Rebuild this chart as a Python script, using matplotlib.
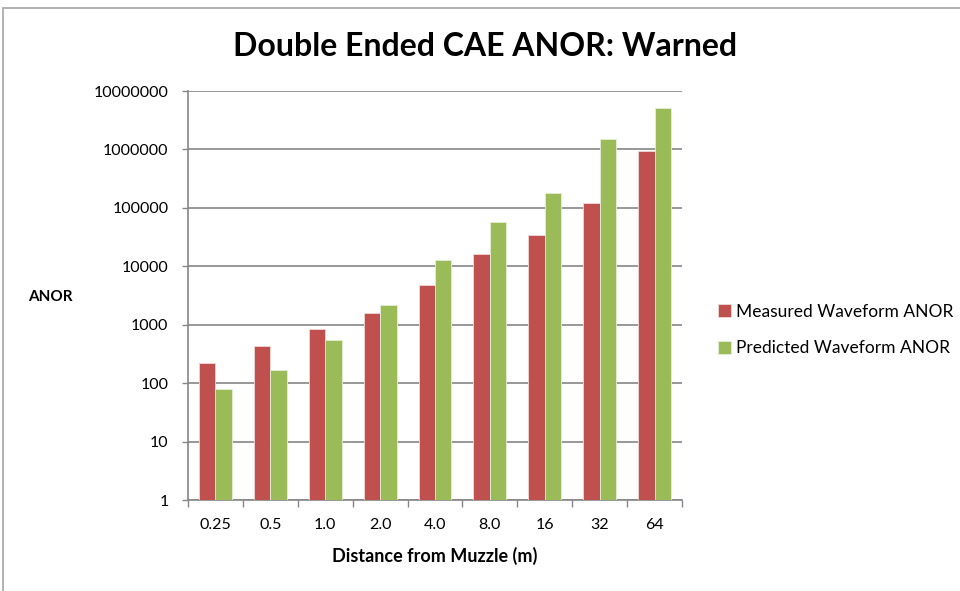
import matplotlib.pyplot as plt
import matplotlib.patches as mpatches
import numpy as np

distances = ["0.25", "0.5", "1.0", "2.0", "4.0", "8.0", "16", "32", "64"]
measured = [224, 427, 855, 1570, 4730, 16200, 33900, 122000, 940000]
predicted = [78, 168, 540, 2200, 12600, 56600, 182000, 1490000, 5060000]
y_ticks = [1, 10, 100, 1000, 10000, 100000, 1000000, 10000000]

plt.rcParams['font.family'] = ['Lato', 'DejaVu Sans']

fig = plt.figure(figsize=(9.6, 5.91), dpi=100)
ax = fig.add_axes([188 / 960, (591 - 500) / 591, (682 - 188) / 960, (500 - 91) / 591])

x = np.arange(len(distances))
w = 0.3
ax.bar(x - w / 2, measured, w, bottom=1, color="#C0504D", edgecolor="#f0d8d8",
       linewidth=0.6, label="Measured Waveform ANOR", zorder=3)
ax.bar(x + w / 2, predicted, w, bottom=1, color="#9BBB59", edgecolor="#e4eed6",
       linewidth=0.6, label="Predicted Waveform ANOR", zorder=3)

ax.set_yscale("log")
ax.set_ylim(1, 1e7)
ax.set_xlim(-0.5, len(distances) - 0.5)
ax.set_yticks(y_ticks)
ax.set_yticklabels([str(v) for v in y_ticks], fontsize=11.5)
ax.yaxis.set_minor_locator(plt.NullLocator())
ax.set_xticks(x)
ax.set_xticklabels(distances, fontsize=11.5)
ax.tick_params(axis="x", length=0, pad=13)
ax.set_xticks(np.arange(-0.5, len(distances)), minor=True)
ax.tick_params(axis="x", which="minor", length=5, color="#868686", width=1)
ax.tick_params(axis="y", length=4, color="#868686", width=1, pad=10)
ax.grid(axis="y", color="#868686", linewidth=1.2, zorder=0)

for s in ["top", "right"]:
    ax.spines[s].set_visible(False)
for s in ["left", "bottom"]:
    ax.spines[s].set_color("#868686")
    ax.spines[s].set_linewidth(1.2)

fig.text(435 / 960, 1 - 556 / 591, "Distance from Muzzle (m)", ha="center", va="center",
         fontsize=13, fontweight="bold")
fig.text(50 / 960, 1 - 297 / 591, "ANOR", ha="center", va="center",
         fontsize=11, fontweight="bold")
fig.text(485 / 960, 1 - 46 / 591, "Double Ended CAE ANOR: Warned", ha="center", va="center",
         fontsize=23, fontweight="bold")

ax.legend(loc="center left", bbox_to_anchor=(702 / 960, 1 - 330 / 591),
          bbox_transform=fig.transFigure, frameon=False, fontsize=12.5,
          handlelength=0.75, handleheight=0.75, handletextpad=0.3, labelspacing=1.2)

fig.add_artist(mpatches.Rectangle((3 / 960, -0.05), 1.1, 1 - 8 / 591 + 0.05,
                                  transform=fig.transFigure, fill=False,
                                  edgecolor="#a6a6a6", linewidth=1.2))

fig.savefig("out.png", dpi=100)
